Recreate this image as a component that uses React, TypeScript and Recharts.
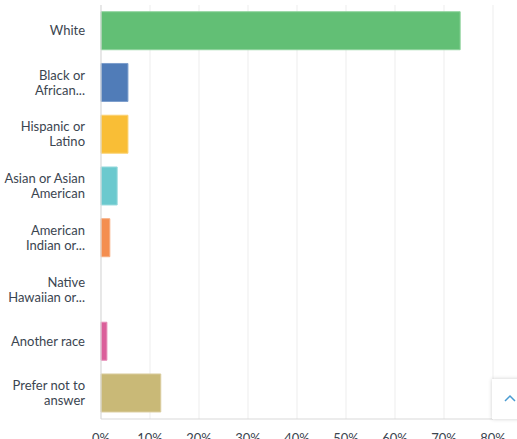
import { BarChart, Bar, XAxis, YAxis, CartesianGrid, Cell } from 'recharts';

const categories = [
  'White',
  'Black or African American',
  'Hispanic or Latino',
  'Asian or Asian American',
  'American Indian or Alaska Native',
  'Native Hawaiian or Pacific Islander',
  'Another race',
  'Prefer not to answer',
];

const tickLines = [
  ['White'],
  ['Black or', 'African...'],
  ['Hispanic or', 'Latino'],
  ['Asian or Asian', 'American'],
  ['American', 'Indian or...'],
  ['Native', 'Hawaiian or...'],
  ['Another race'],
  ['Prefer not to', 'answer'],
];

const percents = [73.3, 5.5, 5.5, 3.3, 1.8, 0, 1.2, 12.2];

const xTicks = [0, 10, 20, 30, 40, 50, 60, 70, 80];

const fills = ['#62bf75', '#507cb8', '#f9be36', '#6bc9ce', '#f48e50', '#9b7fc0', '#db5f9a', '#c9b977'];
const strokes = ['#8fd39d', '#7d9fcd', '#fbd272', '#98dadd', '#f7ad80', '#b9a4d3', '#e68ab6', '#dacd9e'];

const data = categories.map((name, i) => ({ name, value: percents[i], idx: i }));

function CategoryTick({ x, y, index }: any) {
  const lines = tickLines[index] || [];
  const lh = 15;
  const start = -((lines.length - 1) * lh) / 2;
  return (
    <text x={x} y={y} textAnchor="end" fill="#3b4550" fontSize={13} fontFamily="Lato, sans-serif">
      {lines.map((l, i) => (
        <tspan key={i} x={x} y={y + start + i * lh} dy="0.35em">
          {l}
        </tspan>
      ))}
    </text>
  );
}

export default function App() {
  return (
    <div style={{ position: 'absolute', left: 0, top: 0, width: 517, height: 439, overflow: 'hidden', background: '#fff' }}>
      <BarChart
        width={517}
        height={439}
        data={data}
        layout="vertical"
        margin={{ top: 5, right: 24, left: 0, bottom: 0 }}
        barCategoryGap="13%"
      >
        <CartesianGrid horizontal={false} stroke="#ededed" />
        <XAxis
          type="number"
          domain={[0, 80]}
          ticks={xTicks}
          tickFormatter={(v) => `${v}%`}
          tickLine={false}
          tickSize={6}
          tickMargin={9}
          height={20}
          axisLine={{ stroke: '#d9d9d9' }}
          tick={{ fill: '#3b4550', fontSize: 13, fontFamily: 'Lato, sans-serif' }}
          interval={0}
        />
        <YAxis
          type="category"
          dataKey="name"
          width={101}
          tickLine={false}
          tickSize={0}
          tickMargin={16}
          axisLine={{ stroke: '#d9d9d9' }}
          tick={<CategoryTick />}
          interval={0}
        />
        <Bar dataKey="value" isAnimationActive={false}>
          {data.map((d, i) => (
            <Cell key={d.name} fill={fills[i]} stroke={strokes[i]} strokeWidth={1} />
          ))}
        </Bar>
      </BarChart>
      <div
        style={{
          position: 'absolute',
          left: 492,
          top: 379,
          width: 40,
          height: 40,
          background: '#fff',
          boxShadow: '0 0 4px rgba(0,0,0,0.2)',
        }}
      >
        <svg width={40} height={40} style={{ position: 'absolute', left: 0, top: 0 }}>
          <polyline points="13,22 18,17 23,22" fill="none" stroke="#4a9bd1" strokeWidth={1.5} />
        </svg>
      </div>
    </div>
  );
}
